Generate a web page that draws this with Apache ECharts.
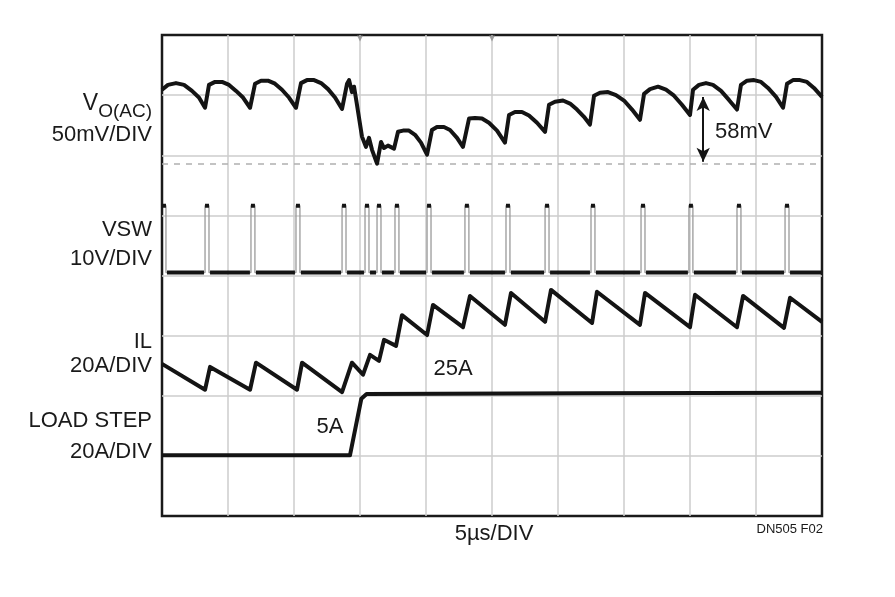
<!DOCTYPE html>
<html>
<head>
<meta charset="utf-8">
<script src="https://cdn.jsdelivr.net/npm/echarts@6/dist/echarts.min.js"></script>
<style>
html,body{margin:0;padding:0;background:#fff;}
#chart{width:895px;height:597px;}
</style>
</head>
<body>
<div id="chart"></div>
<script>
// time in µs (5µs/DIV, 10 divisions), vertical position in screen divisions (8 divisions)
const voData = [
  [0,7.09],[0.45,7.17],[1.06,7.20],[1.67,7.17],[2.27,7.07],[2.80,6.96],[3.26,6.79],
  [3.56,7.17],[4.02,7.22],[4.55,7.22],[5.08,7.17],[5.61,7.07],[6.14,6.96],[6.67,6.79],
  [7.05,7.19],[7.50,7.24],[8.03,7.24],[8.56,7.19],[9.09,7.09],[9.62,6.96],[10.15,6.79],
  [10.53,7.20],[10.98,7.25],[11.52,7.25],[12.05,7.20],[12.58,7.10],[13.11,6.96],[13.64,6.77],
  [14.02,7.19],[14.17,7.25],[14.39,7.05],[14.55,7.14],[14.77,6.84],[15.15,6.31],[15.45,6.14],
  [15.68,6.29],[15.91,6.09],[16.29,5.86],[16.59,6.22],[16.82,6.12],[17.12,6.16],[17.58,6.11],
  [17.88,6.39],[18.26,6.41],[18.71,6.41],[19.17,6.34],[19.62,6.21],[20.08,6.01],
  [20.45,6.42],[20.83,6.47],[21.36,6.47],[21.82,6.42],[22.35,6.29],[22.80,6.14],
  [23.26,6.61],[23.71,6.62],[24.24,6.61],[24.77,6.54],[25.38,6.41],[25.98,6.21],
  [26.29,6.67],[26.74,6.72],[27.27,6.72],[27.80,6.66],[28.41,6.54],[29.02,6.39],
  [29.32,6.84],[29.77,6.89],[30.38,6.91],[30.91,6.86],[31.44,6.76],[31.97,6.64],[32.42,6.51],
  [32.73,6.99],[33.18,7.04],[33.79,7.05],[34.39,7.00],[35.00,6.91],[35.61,6.76],[36.21,6.59],
  [36.52,7.02],[36.97,7.10],[37.58,7.14],[38.18,7.09],[38.79,6.99],[39.39,6.84],[40.00,6.67],
  [40.23,7.09],[40.68,7.17],[41.21,7.20],[41.74,7.17],[42.35,7.07],[42.95,6.92],[43.56,6.76],
  [43.86,7.17],[44.32,7.24],[44.85,7.25],[45.38,7.22],[45.91,7.12],[46.52,6.97],[47.05,6.79],
  [47.35,7.19],[47.80,7.25],[48.33,7.25],[48.86,7.22],[49.39,7.12],[50,6.97]
];
const voMinLevel = 5.86;
const arrowTime = 41.0, arrowTop = 6.97, arrowBottom = 5.89;

const vswRise = [0, 3.26, 6.74, 10.15, 13.64, 15.38, 16.29, 17.65, 20.08, 22.95, 26.06, 29.02, 32.50, 36.29, 39.92, 43.56, 47.20];
const vswFall = [0.30, 3.56, 7.04, 10.45, 13.94, 15.68, 16.59, 17.95, 20.38, 23.25, 26.36, 29.32, 32.80, 36.59, 40.22, 43.86, 47.50];
const vswHigh = 5.16, vswLow = 4.05;

const ilData = [
  [0,2.53],[3.26,2.10],[3.64,2.48],[6.67,2.10],[7.12,2.55],[10.23,2.10],[10.61,2.55],
  [13.64,2.06],[14.39,2.55],[15.23,2.35],[15.76,2.68],[16.44,2.58],[16.82,2.93],[17.73,2.83],
  [18.18,3.34],[20.08,3.01],[20.53,3.51],[22.80,3.14],[23.33,3.66],[25.98,3.18],[26.44,3.71],
  [29.02,3.23],[29.47,3.76],[32.58,3.21],[32.95,3.73],[36.21,3.18],[36.59,3.71],[40.00,3.14],
  [40.38,3.68],[43.56,3.14],[44.02,3.66],[47.12,3.13],[47.58,3.63],[50,3.23]
];

const loadData = [[0,1.01],[14.24,1.01],[15.1,1.95],[15.5,2.03],[32,2.04],[50,2.05]];

const triggerMarks = [[15, 7.94], [25, 7.94]];

// build VSW traces
const vswEdges = [];
const vswFlats = [];
for (let i = 0; i < vswRise.length; i++) {
  vswEdges.push([vswRise[i], i === 0 ? vswHigh : vswLow], [vswRise[i], vswHigh], [vswFall[i], vswHigh], [vswFall[i], vswLow]);
  vswFlats.push([vswRise[i], vswHigh], [vswFall[i], vswHigh], [vswFall[i], '-']);
  const last = i + 1 >= vswRise.length;
  const next = last ? 50 : vswRise[i + 1];
  vswFlats.push([vswFall[i] + 0.08, vswLow], [next - (last ? 0 : 0.08), vswLow], [next, '-']);
}
vswEdges.push([50, vswLow]);

const chart = echarts.init(document.getElementById('chart'), null, {renderer: 'canvas'});
const FONT = "'Liberation Sans', Arial, Helvetica, sans-serif";
const black = '#141414';
function txt(text, x, y, size, align) {
  return {type: 'text', x: x, y: y, z: 100,
    style: {text: text, fill: '#1a1a1a', font: size + 'px ' + FONT, align: align || 'right', verticalAlign: 'middle'}};
}
const axisCommon = {
  axisLine: {show: false}, axisTick: {show: false}, axisLabel: {show: false},
  splitLine: {show: true, showMinLine: false, showMaxLine: false, lineStyle: {color: '#cdcdcd', width: 1.5}}
};
chart.setOption({
  animation: false,
  backgroundColor: '#ffffff',
  grid: {left: 162, right: 73, top: 35, bottom: 81, show: true, borderColor: '#1a1a1a', borderWidth: 2.5},
  xAxis: Object.assign({type: 'value', min: 0, max: 50, interval: 5}, axisCommon),
  yAxis: Object.assign({type: 'value', min: 0, max: 8, interval: 1}, axisCommon),
  series: [
    {type: 'line', data: vswEdges, symbol: 'none', lineStyle: {color: '#9a9a9a', width: 1.3}, z: 3},
    {type: 'line', data: vswFlats, symbol: 'none', connectNulls: false, lineStyle: {color: black, width: 4}, z: 4},
    {type: 'line', data: voData, symbol: 'none', lineStyle: {color: black, width: 4, join: 'round'}, z: 5,
      markLine: {silent: true, symbol: ['none', 'none'], label: {show: false},
        lineStyle: {color: '#b0b0b0', type: [6, 6], width: 1.5},
        data: [{yAxis: voMinLevel}]}
    },
    {type: 'line', data: [[arrowTime, arrowTop], [arrowTime, arrowBottom]], symbol: 'none',
      lineStyle: {width: 0}, z: 6,
      markLine: {silent: true, symbol: ['arrow', 'arrow'], symbolSize: [10, 14], label: {show: false},
        lineStyle: {color: black, width: 2, type: 'solid'},
        data: [[{coord: [arrowTime, arrowTop]}, {coord: [arrowTime, arrowBottom]}]]}
    },
    {type: 'line', data: ilData, symbol: 'none', lineStyle: {color: black, width: 4, join: 'round'}, z: 5},
    {type: 'line', data: loadData, symbol: 'none', lineStyle: {color: black, width: 4, join: 'round'}, z: 5},
    {type: 'scatter', data: triggerMarks, symbol: 'triangle', symbolRotate: 180, symbolSize: 6,
      itemStyle: {color: '#8a8a8a'}, z: 7}
  ],
  graphic: [
    txt('V', 98, 104, 23),
    txt('O(AC)', 152, 112, 19),
    txt('50mV/DIV', 152, 135, 22),
    txt('VSW', 152, 230, 22),
    txt('10V/DIV', 152, 259, 22),
    txt('IL', 152, 342, 22),
    txt('20A/DIV', 152, 366, 22),
    txt('LOAD STEP', 152, 421, 22),
    txt('20A/DIV', 152, 452, 22),
    txt('58mV', 715, 132, 22, 'left'),
    txt('25A', 453, 369, 22, 'center'),
    txt('5A', 330, 427, 22, 'center'),
    txt('5µs/DIV', 494, 534, 22, 'center'),
    txt('DN505 F02', 823, 529, 13, 'right')
  ]
});
</script>
</body>
</html>
